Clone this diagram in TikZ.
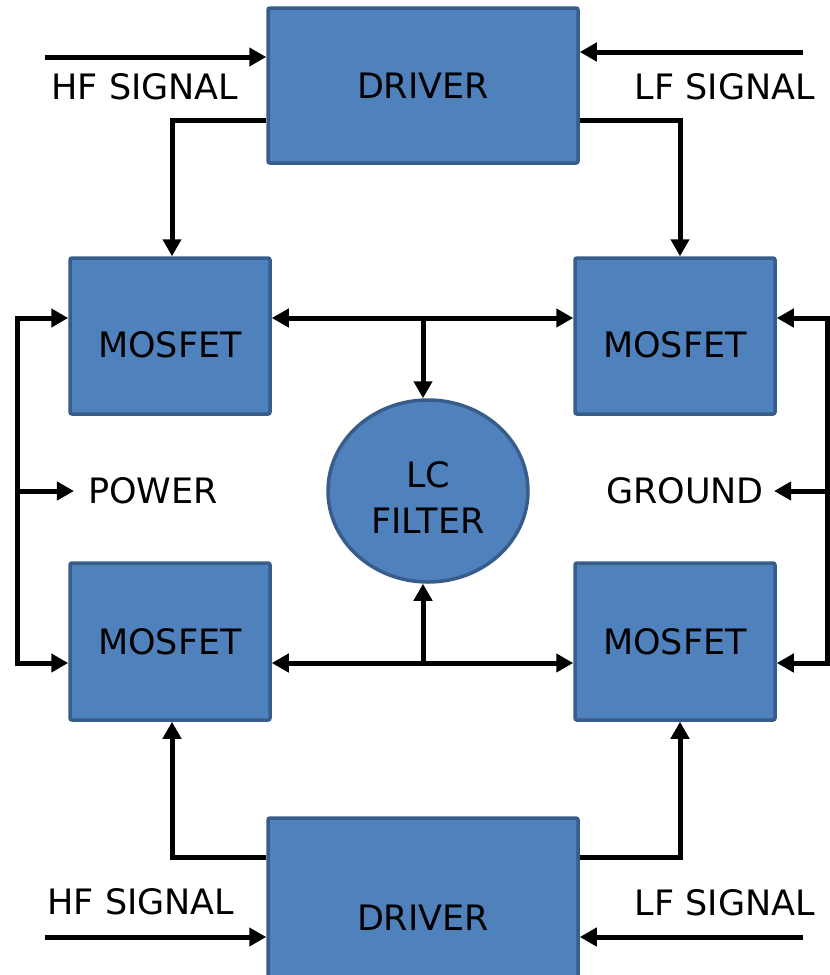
\documentclass[tikz,border=0pt]{standalone}
\usepackage{fontspec}
\setmainfont{DejaVu Sans}
\usetikzlibrary{calc,arrows.meta,shapes.geometric}
\definecolor{boxfill}{HTML}{4F81BD}
\definecolor{boxline}{HTML}{385D8A}
\tikzset{
  block/.style={draw=boxline, fill=boxfill, line width=3.5pt, rounded corners=2pt, inner sep=0pt},
  wire/.style={line width=5pt, line join=miter, -{Triangle[length=17pt,width=18pt]}},
  biwire/.style={line width=5pt, line join=miter, {Triangle[length=17pt,width=18pt]}-{Triangle[length=17pt,width=18pt]}},
  lbl/.style={inner sep=0pt}
}
\begin{document}
\begin{tikzpicture}[x=1pt, y=-1pt, font=\fontsize{35pt}{40pt}\selectfont]
\useasboundingbox (0,0) rectangle (830,975);
\clip (0,0) rectangle (830,975);

\node[block, minimum width=310pt, minimum height=155pt] (drvT) at (423,85.5) {DRIVER};
\node[block, minimum width=310pt, minimum height=200pt] (drvB) at (423,918) {DRIVER};
\node[block, minimum width=200pt, minimum height=156pt, text height=43pt, text depth=0pt] (mosTL) at (170,336) {MOSFET};
\node[block, minimum width=200pt, minimum height=156pt, text height=43pt, text depth=0pt] (mosTR) at (675,336) {MOSFET};
\node[block, minimum width=200pt, minimum height=157pt] (mosBL) at (170,641.5) {MOSFET};
\node[block, minimum width=200pt, minimum height=157pt] (mosBR) at (675,641.5) {MOSFET};
\node[block, ellipse, minimum width=200pt, minimum height=182pt,
      label={[yshift=-7pt, align=center, font=\fontsize{35pt}{46pt}\selectfont]center:LC\\FILTER}] (lc) at (428,491) {};

\node[lbl] (hfT) at (145,87) {HF SIGNAL};
\node[lbl] (lfT) at (725,87) {LF SIGNAL};
\node[lbl] (hfB) at (141,902) {HF SIGNAL};
\node[lbl] (lfB) at (725,903) {LF SIGNAL};
\node[lbl] (power) at (153,491) {POWER};
\node[lbl] (ground) at (685,491) {GROUND};

\coordinate (hfTin) at (45,57);
\coordinate (lfTin) at (803,52);
\coordinate (hfBin) at (45,937);
\coordinate (lfBin) at (803,937);
\coordinate (busT) at (423,318);
\coordinate (busB) at (423,663);
\coordinate (pwrT) at (17,318);
\coordinate (pwrB) at (17,663);
\coordinate (gndT) at (827,318);
\coordinate (gndB) at (827,663);

\draw[wire] (hfTin) -- (hfTin -| drvT.west);
\draw[wire] (lfTin) -- (lfTin -| drvT.east);
\draw[wire] (hfBin) -- (hfBin -| drvB.west);
\draw[wire] (lfBin) -- (lfBin -| drvB.east);

\draw[wire] ($(drvT.west)+(0,34.5)$) -| ([xshift=2pt]mosTL.north);
\draw[wire] ($(drvT.east)+(0,34.5)$) -| ([xshift=5pt]mosTR.north);
\draw[wire] ($(drvB.west)+(0,-61)$) -| ([xshift=2pt]mosBL.south);
\draw[wire] ($(drvB.east)+(0,-61)$) -| ([xshift=5pt]mosBR.south);

\draw[biwire] (busT -| mosTL.east) -- (busT -| mosTR.west);
\draw[wire] (busT) -- (busT |- lc.north);
\draw[biwire] (busB -| mosBL.east) -- (busB -| mosBR.west);
\draw[wire] (busB) -- (busB |- lc.south);

\draw[biwire] (pwrT -| mosTL.west) -- (pwrT) -- (pwrB) -- (pwrB -| mosBL.west);
\draw[wire] (pwrT |- power) -- ([xshift=-14pt]power.west);
\draw[biwire] (gndT -| mosTR.east) -- (gndT) -- (gndB) -- (gndB -| mosBR.east);
\draw[wire] (gndT |- ground) -- ([xshift=10pt]ground.east);
\end{tikzpicture}
\end{document}
